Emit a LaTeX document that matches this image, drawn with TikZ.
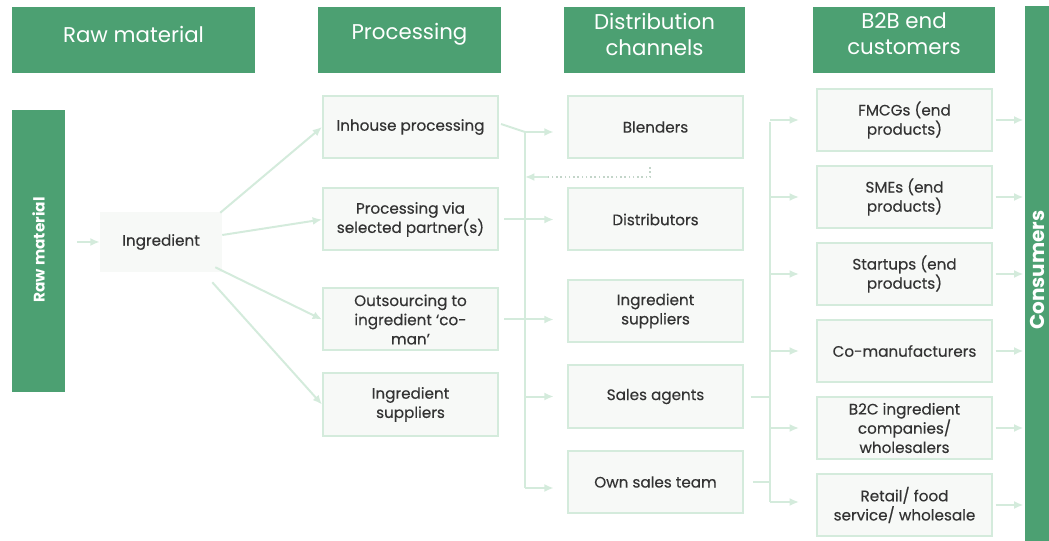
\documentclass[tikz,border=0pt]{standalone}
\usepackage{fontspec}
\setmainfont{Poppins}
\newfontfamily\boxfont{Poppins}[FakeBold=0.3]
\usetikzlibrary{arrows.meta,calc}
\definecolor{hdr}{RGB}{76,160,114}
\definecolor{lnc}{RGB}{212,235,220}
\definecolor{bxf}{RGB}{247,249,247}
\definecolor{txt}{RGB}{51,51,51}
\tikzset{
  hdrbox/.style={fill=hdr, minimum height=49.5pt, inner sep=0pt},
  hdrtxt/.style={text=white, align=center, font=\fontsize{16}{19.5}\selectfont, inner sep=0pt},
  boxn/.style={draw=lnc, line width=1.5pt, fill=bxf, text=txt, minimum width=131.25pt,
     minimum height=46.5pt, align=center, font=\boxfont\fontsize{11.4}{14.4}\selectfont, inner sep=2pt},
  ln/.style={draw=lnc, line width=1.5pt},
  arr/.style={draw=lnc, line width=1.5pt, -{Latex[length=7pt,width=6pt]}},
}
\begin{document}
\begin{tikzpicture}[x=0.75pt,y=-0.75pt]
\useasboundingbox (0,0) rectangle (1049,541);
% headers
\node[hdrbox, minimum width=182.25pt] (h1) at (133.5,40) {};
\node[hdrbox, minimum width=137.25pt] (h2) at (409.5,40) {};
\node[hdrbox, minimum width=135.75pt] (h3) at (654.5,40) {};
\node[hdrbox, minimum width=136.5pt] (h4) at (904,40) {};
\node[hdrtxt] (h1t) at ($(h1.center)+(0,-6)$) {Raw material};
\node[hdrtxt] (h2t) at ($(h2.center)+(0,-6)$) {Processing};
\node[hdrtxt] (h3t) at ($(h3.center)+(0,-6)$) {Distribution\\channels};
\node[hdrtxt] (h4t) at ($(h4.center)+(0,-6)$) {B2B end\\customers};
% consumers bar
\node[fill=hdr, minimum width=30pt, minimum height=404pt, inner sep=0pt] (cons) at (1045,275) {};
\node[rotate=90, anchor=base, inner sep=0pt, text=white, font=\fontsize{15}{18}\selectfont\bfseries] (constxt) at (1044,270) {Consumers};
% raw material bar
\node[fill=hdr, minimum width=39.75pt, minimum height=211.5pt, inner sep=0pt] (rawbar) at (38.5,251) {};
\node[rotate=90, text=white, font=\fontsize{11.5}{13}\selectfont\bfseries] (rawtxt) at (38.5,250) {Raw material};
% ingredient
\node[fill=bxf, text=txt, minimum width=91.5pt, minimum height=45pt, font=\boxfont\fontsize{11.4}{14.4}\selectfont] (ingr) at (161,242) {Ingredient};
% processing
\node[boxn] (p1) at (410.5,127) {Inhouse processing};
\node[boxn] (p2) at (410.5,219.5) {Processing via\\selected partner(s)};
\node[boxn] (p3) at (410.5,319.5) {Outsourcing to\\ingredient ‘co-\\man’};
\node[boxn] (p4) at (410.5,404.5) {Ingredient\\suppliers};
% distribution
\node[boxn] (d1) at (655.5,127) {Blenders};
\node[boxn] (d2) at (655.5,219.5) {Distributors};
\node[boxn] (d3) at (655.5,311) {Ingredient\\suppliers};
\node[boxn] (d4) at (655.5,396.5) {Sales agents};
\node[boxn] (d5) at (655.5,482) {Own sales team};
% B2B
\node[boxn] (b1) at (904.5,120) {FMCGs (end\\products)};
\node[boxn] (b2) at (904.5,197) {SMEs (end\\products)};
\node[boxn] (b3) at (904.5,274) {Startups (end\\products)};
\node[boxn] (b4) at (904.5,351) {Co-manufacturers};
\node[boxn] (b5) at (904.5,428) {B2C ingredient\\companies/\\wholesalers};
\node[boxn] (b6) at (904.5,505) {Retail/ food\\service/ wholesale};
% raw -> ingredient
\draw[arr, shorten <=9pt] (rawbar.east |- ingr.west) -- (ingr.west);
% ingredient -> processing
\draw[arr] ($(ingr.north east)+(-2,1)$) -- (p1.west);
\draw[arr] ($(ingr.east)+(0,-7)$) -- (p2.west);
\draw[arr] ($(ingr.south east)+(-7,-5)$) -- (p3.west);
\draw[arr] ($(ingr.south east)+(-10,10)$) -- (p4.west);
% left trunk
\coordinate (t1) at (525,132);
\coordinate (t5) at (525,488);
\draw[ln] ($(p1.east)+(2,-3)$) -- (t1);
\draw[arr, shorten >=10pt] (t1) -- (t1 -| d1.west);
\draw[ln] (t1) -- (t5);
\draw[arr, shorten >=10pt] (t5) -- (t5 -| d5.west);
\draw[arr, shorten <=4pt, shorten >=10pt] (p2.east) -- (p2.east -| d2.west);
\draw[arr, shorten <=4pt, shorten >=10pt] (p3.east) -- (p3.east -| d3.west);
\draw[arr, shorten >=10pt] (t1 |- d4.west) -- (d4.west);
% dotted return
\coordinate (dd) at (650,167);
\coordinate (de) at (548,177);
\draw[draw=lnc!80!gray, line width=1.2pt, dotted] (dd) |- (de);
\draw[arr] (de) -- (t1 |- de);
% right trunk
\coordinate (r1) at (770,122);
\coordinate (r6) at (770,502);
\draw[ln] (r1) -- (r6);
\draw[ln, shorten <=5pt] (d4.east) -- (r1 |- d4.east);
\draw[ln, shorten <=7pt] (d5.east) -- (r1 |- d5.east);
\foreach \b in {b1,b2,b3,b4,b5}{
  \draw[arr, shorten >=12.75pt] (r1 |- \b.west) -- (\b.west);
}
\draw[arr, shorten >=12.75pt] (r6) -- (r6 -| b6.west);
% B2B -> consumers
\foreach \b in {b1,b2,b3,b4,b5,b6}{
  \draw[arr, shorten <=2pt, shorten >=1pt] (\b.east) -- (\b.east -| cons.west);
}
\end{tikzpicture}
\end{document}
